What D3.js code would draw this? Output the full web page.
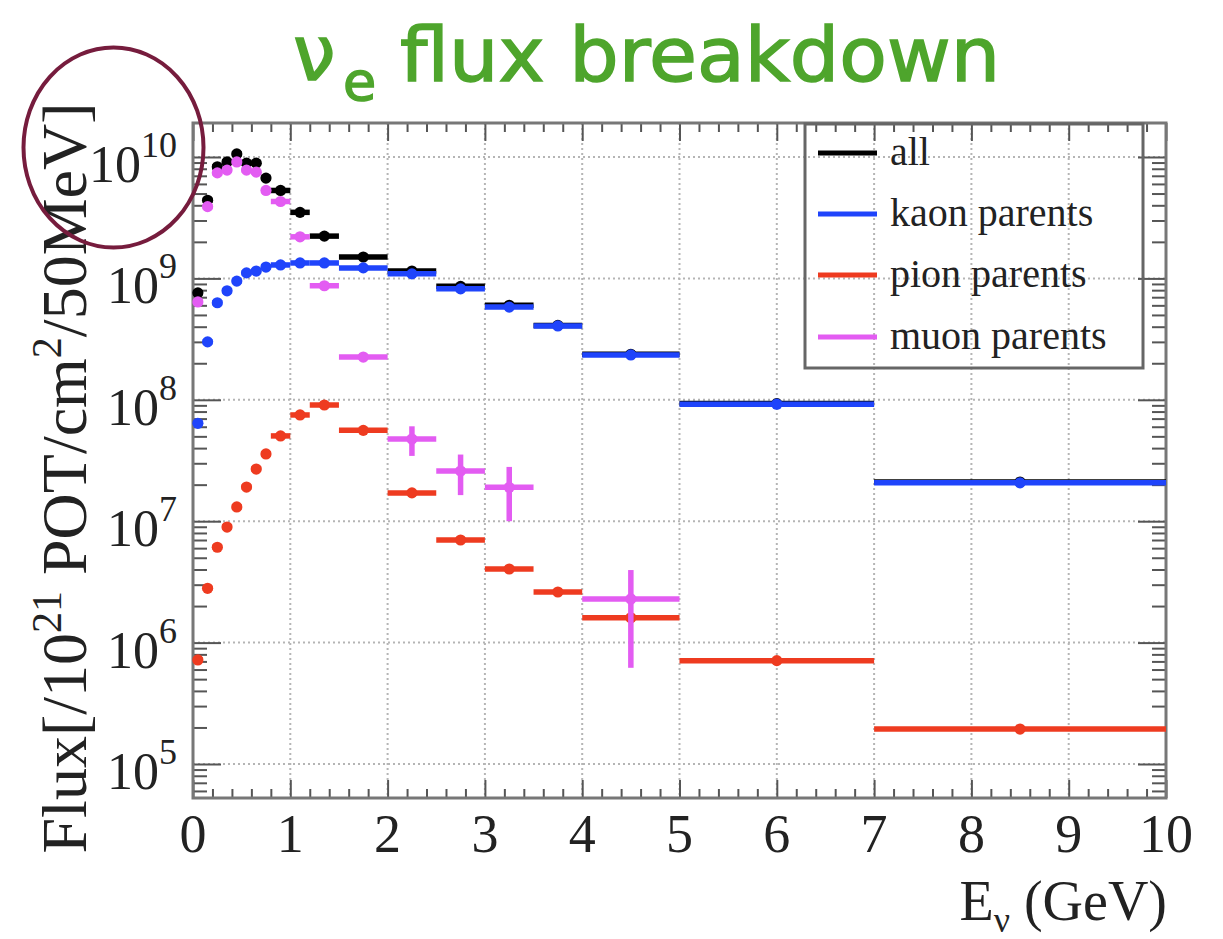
<!DOCTYPE html>
<html><head><meta charset="utf-8">
<script src="https://cdn.jsdelivr.net/npm/d3@7"></script>
<style>html,body{margin:0;padding:0;background:#fff;}svg{display:block;}</style>
</head><body>
<script>
// ---- data ----
const binLo = [0,0.1,0.2,0.3,0.4,0.5,0.6,0.7,0.8,1.0,1.2,1.5,2.0,2.5,3.0,3.5,4.0,5.0,7.0];
const binHi = [0.1,0.2,0.3,0.4,0.5,0.6,0.7,0.8,1.0,1.2,1.5,2.0,2.5,3.0,3.5,4.0,5.0,7.0,10.0];
const allFlux  = [7.6e8,4.4e9,8.3e9,9.1e9,1.06e10,8.9e9,8.9e9,6.7e9,5.3e9,3.5e9,2.23e9,1.5e9,1.15e9,8.6e8,6.0e8,4.1e8,2.37e8,9.3e7,2.1e7];
const kaonFlux = [6.4e7,3.0e8,6.3e8,7.9e8,9.5e8,1.11e9,1.15e9,1.24e9,1.29e9,1.34e9,1.34e9,1.22e9,1.09e9,8.2e8,5.8e8,4.06e8,2.34e8,9.2e7,2.07e7];
const pionFlux = [7.2e5,2.8e6,6.1e6,8.95e6,1.31e7,1.91e7,2.69e7,3.58e7,5.04e7,7.5e7,9.06e7,5.6e7,1.71e7,7.0e6,4.04e6,2.61e6,1.6e6,7.1e5,1.94e5];
const muonFlux = [6.4e8,3.9e9,7.4e9,7.8e9,9.1e9,7.8e9,7.5e9,5.3e9,4.3e9,2.2e9,8.7e8,2.25e8,4.75e7,2.59e7,1.9e7,null,2.29e6,null,null];
const muonErr  = [0,0,0,0,0,0,0,0,0,0,0,0,1.3e7,9.5e6,9.0e6,0,1.67e6,0,0];
const xTicks = [0,1,2,3,4,5,6,7,8,9,10];
const yDecades = [5,6,7,8,9,10];
const legendLabels = ["all","kaon parents","pion parents","muon parents"];
const seriesColors = ["#000000","#1f44fb","#ee3b20","#e35cf2"];

// ---- layout ----
const W = 1223, H = 939;
const L = 193, R = 1166, T = 123, B = 798;
const svg = d3.select("body").append("svg").attr("width", W).attr("height", H)
  .style("background", "#fff");

const x = d3.scaleLinear().domain([0, 10]).range([L, R]);
const y = d3.scaleLog().domain([Math.pow(10, 4.72), Math.pow(10, 10.28)]).range([B, T]);

// grid
const grid = svg.append("g");
grid.selectAll("line.gx").data(xTicks.slice(1, -1)).join("line")
  .attr("x1", d => x(d)).attr("x2", d => x(d)).attr("y1", T).attr("y2", B)
  .attr("stroke", "#b5b5b5").attr("stroke-width", 2).attr("stroke-dasharray", "2,3");
grid.selectAll("line.gy").data(yDecades).join("line")
  .attr("x1", L).attr("x2", R).attr("y1", d => y(Math.pow(10, d))).attr("y2", d => y(Math.pow(10, d)))
  .attr("stroke", "#b5b5b5").attr("stroke-width", 2).attr("stroke-dasharray", "2,3");

// minor/major tick values
const xMinor = d3.range(0, 10.001, 0.2).filter(v => Math.abs(v - Math.round(v)) > 1e-6);
const yMajor = yDecades.map(d => Math.pow(10, d));
const yMinor = [];
for (let e = 4; e <= 10; e++) for (let m = 2; m <= 9; m++) {
  const v = m * Math.pow(10, e);
  if (v >= y.domain()[0] && v <= y.domain()[1]) yMinor.push(v);
}

function styleAxis(g) {
  g.select(".domain").remove();
  g.selectAll(".tick line").attr("stroke", "#555").attr("stroke-width", 2);
  g.selectAll(".tick text").remove();
}
svg.append("g").attr("transform", `translate(0,${B})`)
  .call(d3.axisBottom(x).tickValues(xTicks).tickSize(-18)).call(styleAxis);
svg.append("g").attr("transform", `translate(0,${B})`)
  .call(d3.axisBottom(x).tickValues(xMinor).tickSize(-9)).call(styleAxis);
svg.append("g").attr("transform", `translate(0,${T})`)
  .call(d3.axisTop(x).tickValues(xTicks).tickSize(-18)).call(styleAxis);
svg.append("g").attr("transform", `translate(0,${T})`)
  .call(d3.axisTop(x).tickValues(xMinor).tickSize(-9)).call(styleAxis);
svg.append("g").attr("transform", `translate(${L},0)`)
  .call(d3.axisLeft(y).tickValues(yMajor).tickSize(-28)).call(styleAxis);
svg.append("g").attr("transform", `translate(${L},0)`)
  .call(d3.axisLeft(y).tickValues(yMinor).tickSize(-14)).call(styleAxis);
svg.append("g").attr("transform", `translate(${R},0)`)
  .call(d3.axisRight(y).tickValues(yMajor).tickSize(-28)).call(styleAxis);
svg.append("g").attr("transform", `translate(${R},0)`)
  .call(d3.axisRight(y).tickValues(yMinor).tickSize(-14)).call(styleAxis);

// frame
svg.append("rect").attr("x", L).attr("y", T).attr("width", R - L).attr("height", B - T)
  .attr("fill", "none").attr("stroke", "#777").attr("stroke-width", 3);

// x tick labels
const serif = "'Liberation Serif','DejaVu Serif',serif";
svg.append("g").selectAll("text").data(xTicks).join("text")
  .attr("x", d => x(d)).attr("y", 852).attr("text-anchor", "middle")
  .attr("font-family", serif).attr("font-size", 54).attr("fill", "#222")
  .text(d => d);

// y tick labels with superscripts
const yl = svg.append("g").selectAll("text").data(yDecades).join("text")
  .attr("x", 177).attr("y", d => y(Math.pow(10, d)) + 25).attr("text-anchor", "end")
  .attr("font-family", serif).attr("fill", "#222");
yl.append("tspan").attr("font-size", 52).text("10");
yl.append("tspan").attr("font-size", 36).attr("dy", -25).text(d => d);

// axis titles
const xt = svg.append("text").attr("x", 1167).attr("y", 920).attr("text-anchor", "end")
  .attr("font-family", serif).attr("font-size", 56).attr("fill", "#222");
xt.append("tspan").text("E");
xt.append("tspan").attr("font-size", 36).attr("dy", 12).text("ν");
xt.append("tspan").attr("dy", -12).text(" (GeV)");

const ytl = svg.append("text").attr("transform", "translate(86,478) rotate(-90)")
  .attr("text-anchor", "middle").attr("font-family", serif).attr("font-size", 64).attr("fill", "#222");
ytl.append("tspan").text("Flux[/10");
ytl.append("tspan").attr("font-size", 42).attr("dy", -25).text("21");
ytl.append("tspan").attr("dy", 25).text(" POT/cm");
ytl.append("tspan").attr("font-size", 42).attr("dy", -25).text("2");
ytl.append("tspan").attr("dy", 25).text("/50MeV]");

// data series
const series = [allFlux, kaonFlux, pionFlux, muonFlux];
const errs = [null, null, null, muonErr];
series.forEach((vals, si) => {
  const col = seriesColors[si];
  const pts = vals.map((v, i) => ({v, lo: binLo[i], hi: binHi[i], c: (binLo[i] + binHi[i]) / 2,
    e: errs[si] ? errs[si][i] : 0})).filter(d => d.v != null);
  const g = svg.append("g");
  g.selectAll("line.h").data(pts).join("line")
    .attr("x1", d => x(d.lo)).attr("x2", d => x(d.hi))
    .attr("y1", d => y(d.v)).attr("y2", d => y(d.v))
    .attr("stroke", col).attr("stroke-width", 5.5);
  g.selectAll("line.v").data(pts.filter(d => d.e > 0)).join("line")
    .attr("x1", d => x(d.c)).attr("x2", d => x(d.c))
    .attr("y1", d => y(d.v + d.e)).attr("y2", d => y(d.v - d.e))
    .attr("stroke", col).attr("stroke-width", 5.5);
  g.selectAll("circle").data(pts).join("circle")
    .attr("cx", d => x(d.c)).attr("cy", d => y(d.v)).attr("r", 5.6).attr("fill", col);
});

// legend
const lg = svg.append("g");
lg.append("rect").attr("x", 805).attr("y", 124).attr("width", 338).attr("height", 244)
  .attr("fill", "none").attr("stroke", "#666").attr("stroke-width", 3);
const lgY = [153, 214, 275, 337];
legendLabels.forEach((t, i) => {
  lg.append("line").attr("x1", 818).attr("x2", 877).attr("y1", lgY[i]).attr("y2", lgY[i])
    .attr("stroke", seriesColors[i]).attr("stroke-width", 5);
  lg.append("text").attr("x", 890).attr("y", lgY[i] + 12).attr("font-family", serif)
    .attr("font-size", 40).attr("fill", "#222").text(t);
});

// title
const tfont = "'DejaVu Sans','Noto Sans',sans-serif";
const tcol = "#4ea52c";
svg.append("text").attr("x", 293).attr("y", 80).attr("font-family", tfont)
  .attr("font-size", 76).attr("fill", tcol).attr("stroke", tcol).attr("stroke-width", 1.5).text("ν");
svg.append("text").attr("x", 343).attr("y", 100).attr("font-family", tfont)
  .attr("font-size", 54).attr("fill", tcol).attr("stroke", tcol).attr("stroke-width", 1.5).text("e");
svg.append("text").attr("x", 400).attr("y", 81).attr("font-family", tfont)
  .attr("font-size", 74).attr("fill", tcol).attr("stroke", tcol).attr("stroke-width", 1.5)
  .attr("textLength", 600).attr("lengthAdjust", "spacingAndGlyphs").text("flux breakdown");

// highlight ellipse
svg.append("ellipse").attr("cx", 113.5).attr("cy", 147.5).attr("rx", 90).attr("ry", 100)
  .attr("fill", "none").attr("stroke", "#761c3d").attr("stroke-width", 4);
</script>
</body></html>
